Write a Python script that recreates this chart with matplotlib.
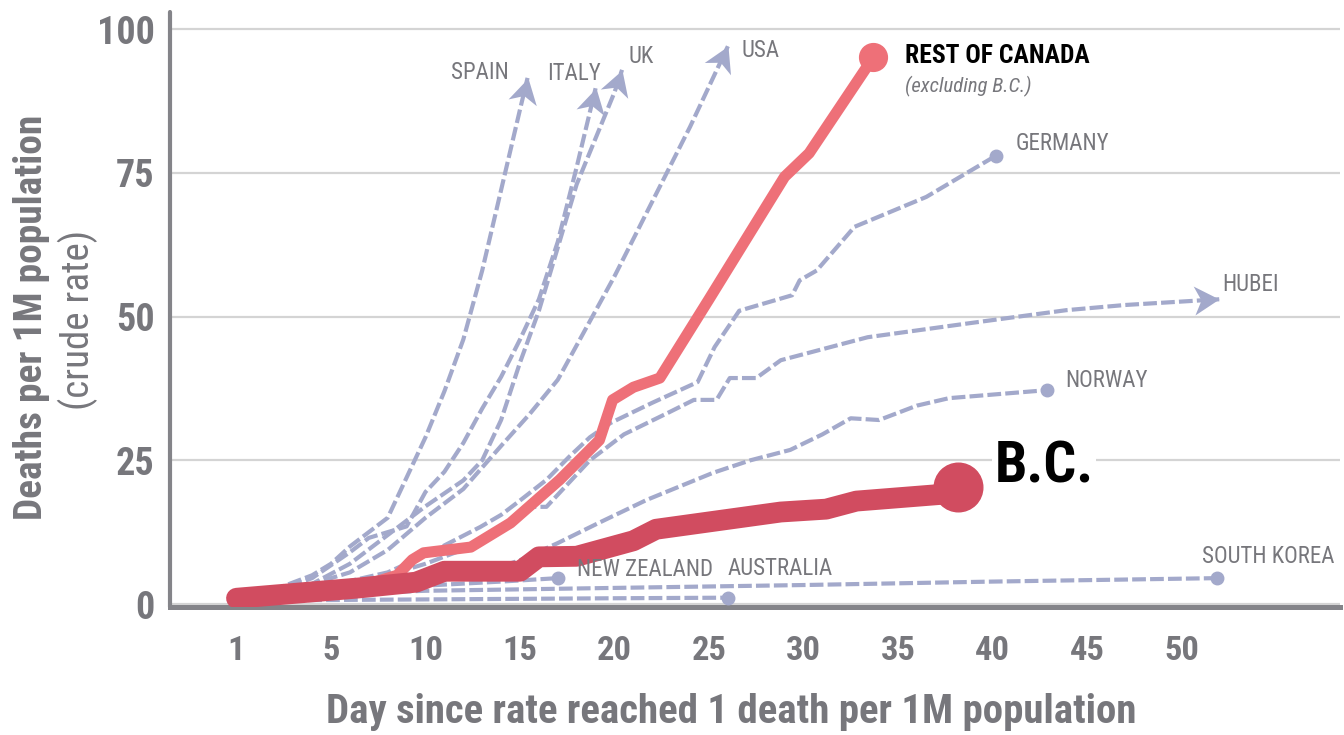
import matplotlib
matplotlib.use("Agg")
import numpy as np
import matplotlib.pyplot as plt
from matplotlib import font_manager as fm
from matplotlib.markers import MarkerStyle
from matplotlib.path import Path
from matplotlib.transforms import Affine2D

# --- data (x = days since 1 death per 1M, y = deaths per 1M) ---
spain_days = [0, 2, 4, 5, 6, 7, 8, 9, 10, 11, 12, 13, 14, 15, 15.4]
spain = [1, 2.5, 5, 7, 10, 12.5, 15, 22, 29, 37, 46, 58, 72, 86, 91.5]

italy_days = [0, 2, 4, 6, 7, 8, 9, 10, 11, 12, 13, 14, 15, 16, 17, 18, 19]
italy = [1, 2.2, 4.5, 9, 11.5, 12.5, 13.5, 19.5, 23, 28, 34, 39.5, 46, 53, 63, 76, 89.7]

uk_days = [0, 2, 4, 6, 8, 10, 12, 13, 14, 15, 16, 17, 18, 19, 20, 20.4]
uk = [1, 2, 3.5, 7, 12, 17, 21.5, 25, 32, 42, 51, 62, 73, 81, 89, 92.9]

usa_days = [0, 3, 6, 8, 10, 12, 14, 15.5, 17, 18, 20, 22, 24, 26]
usa = [1, 2.5, 5.5, 9.4, 15, 20, 27.5, 33, 39, 45, 57, 70, 83, 97]

germany_days = [0, 4, 8, 10, 12.9, 14, 15, 16.4, 17.6, 18.7, 19.8, 22, 24.4, 25.3,
                26.6, 29.4, 29.8, 30.7, 32.7, 36.5, 40.2]
germany = [1, 2.5, 5.5, 8.5, 13.4, 15.5, 18, 21.6, 25.6, 29, 31.5, 35, 38.6, 44.7,
           51, 53.7, 56.3, 58, 65.6, 70.8, 78]

hubei_days = [0, 5, 8, 10, 12.9, 14.6, 15.7, 16.4, 18.7, 20.5, 22.8, 24.2, 25.4, 26.1,
              27.5, 28.8, 33.4, 38.7, 43.9, 47, 52]
hubei = [1, 3, 5, 7, 10.6, 14.5, 16.9, 16.9, 25, 29.5, 33.2, 35.5, 35.5, 39.3,
         39.3, 42.4, 46.4, 48.8, 51.1, 52, 53]

norway_days = [0, 5, 10, 13, 15, 17, 19.1, 21.7, 25.2, 27.2, 29.3, 31, 32.5, 34, 36, 37.7, 42.9]
norway = [1, 2, 3.5, 5.5, 7.6, 10.6, 14, 18.1, 22.8, 25, 26.8, 29.5, 32.3, 32, 34.5, 35.8, 37.2]

nz_days = [0, 5, 10, 14, 17]
nz = [1, 2, 3.2, 3.9, 4.5]

australia_days = [0, 10, 20, 26]
australia = [0.6, 0.8, 1.0, 1.1]

korea_days = [0, 10, 20, 30, 40, 51.9]
korea = [1.2, 2.3, 2.8, 3.3, 3.9, 4.5]

roc_days = [0, 4, 7, 8.5, 9.3, 9.9, 12.4, 14.5, 17.1, 19.2, 19.9, 21, 22.4, 25, 29, 30.3, 33.7]
roc = [1, 2, 3.5, 5, 7.7, 8.9, 9.9, 14.1, 21.6, 28.5, 35.5, 37.7, 39.3, 53, 74.3, 78.4, 95.1]

bc_days = [0, 6.5, 9.5, 11, 15, 16, 18, 21, 22.2, 28.8, 31.2, 32.8, 37.4, 38.2]
bc = [1, 2.8, 3.8, 5.7, 5.7, 8.2, 8.3, 11, 13, 16, 16.5, 17.9, 19.1, 20.3]

xtick_pos = [0, 5, 10, 15, 20, 25, 30, 35, 40, 45, 50]
xtick_labels = ["1", "5", "10", "15", "20", "25", "30", "35", "40", "45", "50"]
ytick_pos = [0, 25, 50, 75, 100]

LINE = "#a3a9cb"
LABEL = "#77777c"
AXIS = "#848489"
ROC_COL = "#ee7078"
BC_COL = "#d14c60"


# look for a condensed font on the system, else plain Liberation Sans
def pick_font(weight, italic=False):
    prefer = ["liberation sans narrow", "roboto condensed", "open sans condensed",
              "noto sans", "dejavu sans", "lato", "inter"]
    found = []
    for f in fm.fontManager.ttflist:
        tag = (f.name + " " + f.fname + " " + str(f.stretch)).lower()
        if "condensed" not in tag and "narrow" not in tag:
            continue
        if any(k in tag for k in ("extra", "ultra", "semi", "mono", "cjk", "display")):
            continue
        w = f.weight if isinstance(f.weight, int) else fm.weight_dict.get(f.weight, 400)
        if w != weight:
            continue
        if (f.style in ("italic", "oblique")) != italic:
            continue
        name = f.name.lower()
        rank = next((i for i, p in enumerate(prefer) if name.startswith(p)), len(prefer))
        found.append((rank, f.fname))
    if found:
        return fm.FontProperties(fname=sorted(found)[0][1])
    if italic:
        return None
    return fm.FontProperties(family="Liberation Sans",
                             weight="bold" if weight == 700 else "normal")


BOLD = pick_font(700)
REG = pick_font(400)
ITAL = pick_font(400, italic=True)
if ITAL is None:
    ITAL = REG.copy()
    ITAL.set_style("italic")

fig = plt.figure(figsize=(13.44, 7.35), dpi=100)
ax = fig.add_axes([170 / 1344, 128 / 735, 1170 / 1344, 595 / 735])
ax.set_xlim(-3.52, 58.39)
ax.set_ylim(-0.52, 102.96)
renderer = fig.canvas.get_renderer()

# stealth-style arrow head, tip at the origin pointing along +x
HEAD = Path([(0, 0), (-1, 0.58), (-0.72, 0), (-1, -0.58), (0, 0)],
            [Path.MOVETO, Path.LINETO, Path.LINETO, Path.LINETO, Path.CLOSEPOLY])


def fit(texts, sample, width_px):
    # scale font so that sample text spans width_px pixels
    bb = sample.get_window_extent(renderer)
    k = width_px / max(bb.width, bb.height)
    for t in texts:
        t.set_fontsize(t.get_fontsize() * k)


country_texts = []


def country(days, vals, name, end, off, ha="left"):
    ax.plot(days, vals, color=LINE, lw=3.0, dashes=(3.3, 1.0), zorder=3)
    if end == "arrow":
        p0, p1 = ax.transData.transform([(days[-2], vals[-2]), (days[-1], vals[-1])])
        ang = np.arctan2(p1[1] - p0[1], p1[0] - p0[0])
        m = MarkerStyle(HEAD, transform=Affine2D().rotate(ang))
        ax.plot(days[-1], vals[-1], marker=m, ms=36, color=LINE, mew=0, zorder=4)
    else:
        ax.plot(days[-1], vals[-1], "o", ms=9, color=LINE, zorder=4)
    t = ax.annotate(name, xy=(days[-1], vals[-1]), xytext=off, textcoords="offset pixels",
                    ha=ha, va="center", fontproperties=REG, fontsize=17,
                    color=LABEL, zorder=6)
    country_texts.append(t)
    return t


country(spain_days, spain, "SPAIN", "arrow", (-19, 5), ha="right")
country(italy_days, italy, "ITALY", "arrow", (5, 15), ha="right")
country(uk_days, uk, "UK", "arrow", (6, 13))
country(usa_days, usa, "USA", "arrow", (14, -4))
country(germany_days, germany, "GERMANY", "dot", (19, 12))
country(hubei_days, hubei, "HUBEI", "arrow", (3, 15))
country(norway_days, norway, "NORWAY", "dot", (18, 10))
country(nz_days, nz, "NEW ZEALAND", "dot", (19, 9))
country(australia_days, australia, "AUSTRALIA", "dot", (0, 29))
korea_text = country(korea_days, korea, "SOUTH KOREA", "dot", (-15, 22))
fit(country_texts, korea_text, 133)

ax.plot(roc_days, roc, color=ROC_COL, lw=8, solid_capstyle="round",
        solid_joinstyle="round", zorder=5)
ax.plot(roc_days[-1], roc[-1], "o", ms=20, color=ROC_COL, zorder=5)
t = ax.annotate("REST OF CANADA", xy=(roc_days[-1], roc[-1]), xytext=(32, 1),
                textcoords="offset pixels", ha="left", va="center",
                fontproperties=BOLD, fontsize=18, color="black", zorder=6)
fit([t], t, 185)
t = ax.annotate("(excluding B.C.)", xy=(roc_days[-1], roc[-1]), xytext=(32, -29),
                textcoords="offset pixels", ha="left", va="center",
                fontproperties=ITAL, fontsize=16, color=LABEL, zorder=6)
fit([t], t, 127)

ax.plot(bc_days, bc, color=BC_COL, lw=15, solid_capstyle="round",
        solid_joinstyle="round", zorder=5)
ax.plot(bc_days[-1], bc[-1], "o", ms=35, color=BC_COL, zorder=5)
t = ax.annotate("B.C.", xy=(bc_days[-1], bc[-1]), xytext=(36, 20),
                textcoords="offset pixels", ha="left", va="center",
                fontproperties=BOLD, fontsize=43, color="black", zorder=6,
                bbox=dict(facecolor="white", edgecolor="none", pad=2))
fit([t], t, 99)

ax.set_yticks(ytick_pos)
ax.yaxis.grid(True, color="#d4d4d4", lw=1.6)
ax.set_axisbelow(True)
ax.set_xticks(xtick_pos)
ax.set_xticklabels(xtick_labels)
ax.set_yticklabels([str(v) for v in ytick_pos])
ax.tick_params(axis="both", length=0, labelcolor=LABEL)
ax.tick_params(axis="x", pad=20)
ax.tick_params(axis="y", pad=11)
xl = ax.get_xticklabels()
yl = ax.get_yticklabels()
for lab in xl + yl:
    lab.set_fontproperties(BOLD)
    lab.set_fontsize(28)
fit(xl, xl[2], 35)
fit(yl, yl[4], 58)

for side in ("top", "right"):
    ax.spines[side].set_visible(False)
ax.spines["left"].set_color(AXIS)
ax.spines["left"].set_linewidth(3)
ax.spines["left"].set_capstyle("round")
ax.spines["bottom"].set_color(AXIS)
ax.spines["bottom"].set_linewidth(3.6)

t = fig.text(731 / 1344, 0.016, "Day since rate reached 1 death per 1M population",
             ha="center", va="baseline", fontproperties=BOLD, fontsize=30, color=LABEL)
fit([t], t, 812)
t = fig.text(32 / 1344, 1 - 317 / 735, "Deaths per 1M population", rotation=90,
             ha="center", va="center", fontproperties=BOLD, fontsize=28, color=LABEL)
fit([t], t, 405)
t = fig.text(78 / 1344, 1 - 320 / 735, "(crude rate)", rotation=90,
             ha="center", va="center", fontproperties=REG, fontsize=28, color=LABEL)
fit([t], t, 180)

fig.savefig("out.png", dpi=100)
